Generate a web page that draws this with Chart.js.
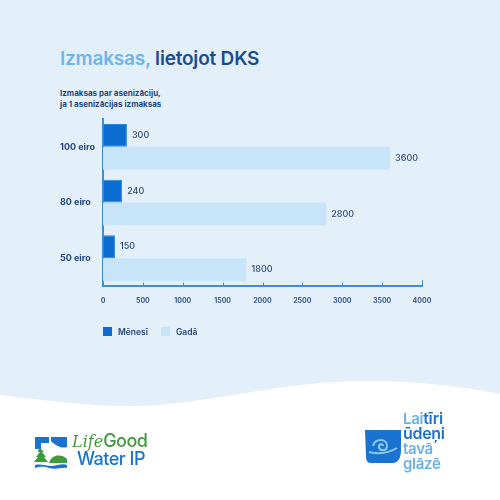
<!DOCTYPE html>
<html>
<head>
<meta charset="utf-8">
<script src="https://cdn.jsdelivr.net/npm/chart.js@4"></script>
<style>
  html, body { margin: 0; padding: 0; }
  body { width: 500px; height: 500px; position: relative; overflow: hidden; background: #fff; font-family: Inter, "Noto Sans", sans-serif; }
  #bg { position: absolute; left: 0; top: 0; }
  .title { position: absolute; left: 60px; top: 47px; font-size: 19px; font-weight: 600; color: #1d4b8f; letter-spacing: -0.2px; white-space: nowrap; }
  .title span { color: #6cb4ee; }
  .sub { position: absolute; left: 60px; top: 88px; font-size: 8px; font-weight: 700; line-height: 10.5px; color: #24477f; white-space: nowrap; }
  #wrap { position: absolute; left: 0; top: 0; width: 500px; height: 500px; }
  .legend { position: absolute; top: 327px; left: 103px; font-size: 8.5px; font-weight: 600; color: #24477f; white-space: nowrap; }
  .legend i { display: inline-block; width: 9px; height: 9px; vertical-align: -1px; margin-right: 6px; }
  .legend b { font-weight: 600; margin-right: 13px; }
  .logo1 { position: absolute; left: 72px; top: 432px; line-height: 17px; }
  .logo1 .life { font-family: "DejaVu Serif", serif; font-style: italic; color: #3f9a3a; font-size: 16px; }
  .logo1 .good { font-size: 18px; font-weight: 500; color: #3f9a3a; letter-spacing: -0.5px; }
  .logo1 .water { display: block; padding-left: 5px; font-size: 18px; font-weight: 500; color: #1a73d1; letter-spacing: -0.5px; }
  .logo2 { position: absolute; left: 403px; top: 411px; font-size: 15px; font-weight: 600; line-height: 15px; color: #6ab0e8; letter-spacing: -0.3px; }
  .logo2 .d { color: #1a73d1; font-size: 16px; }
</style>
</head>
<body>
<svg id="bg" width="500" height="500">
  <rect x="0" y="0" width="500" height="500" fill="#e4f0f9"/>
  <path d="M0 395 C 60 402, 110 410, 170 404 C 240 396, 290 382, 360 381 C 420 380, 470 388, 500 394 L 500 500 L 0 500 Z" fill="#ffffff"/>
  <!-- left logo icon -->
  <g transform="translate(35,437)">
    <path d="M0 0 H14 V6 H6 V12 H0 Z" fill="#1a73d1"/>
    <path d="M16 0 H32 V10 C26 12, 20 8, 16 4 Z" fill="#1a73d1"/>
    <path d="M4 12 L9 17 L7 17 L11 22 L9 22 L13 27 H-1 L3 22 L1 22 L5 17 L3 17 Z" fill="#3f9a3a" transform="translate(0,-2)"/>
    <path d="M14 26 C 16 18, 26 16, 32 22 V26 Z" fill="#3f9a3a"/>
    <path d="M0 28 C 8 26, 14 31, 22 28 C 26 27, 30 27, 32 28 V31 C 26 30, 22 33, 14 31 C 8 29, 4 30, 0 31 Z" fill="#1a73d1"/>
  </g>
  <!-- right logo cup -->
  <g transform="translate(365,430)">
    <path d="M0 0 H36 V20 C36 28, 33 33, 28 33 H6 C2 33, 1 30, 1 26 Z" fill="#1a73d1"/>
    <path d="M8 16 C 10 8, 22 8, 22 16 C 22 21, 15 22, 14 17 C 13 14, 18 13, 18 16" stroke="#8cc8f2" stroke-width="2" fill="none"/>
    <path d="M4 22 C 12 24, 22 24, 32 18" stroke="#8cc8f2" stroke-width="2" fill="none"/>
  </g>
</svg>
<div class="title"><span>Izmaksas,</span> lietojot DKS</div>
<div class="sub">Izmaksas par asenizāciju,<br>ja 1 asenizācijas izmaksas</div>
<div id="wrap"><canvas id="myChart" width="500" height="500"></canvas></div>
<div class="legend"><i style="background:#0a6dcf"></i><b>Mēnesī</b><i style="background:#c8e4f8"></i><b>Gadā</b></div>
<div class="logo1"><span class="life">Life</span><span class="good">Good</span><span class="water">Water IP</span></div>
<div class="logo2">Lai<span class="d">tīri</span><br><span class="d">ūdeņi</span><br>tavā<br>glāzē</div>
<script>
let categories = ['100 eiro', '80 eiro', '50 eiro']
let perMonth = [300, 240, 150]
let perYear = [3600, 2800, 1800]
let seriesNames = ['Mēnesī', 'Gadā']
let xTicks = [0, 500, 1000, 1500, 2000, 2500, 3000, 3500, 4000]

let axisBlue = '#3a8ee0'
let textBlue = '#24477f'

// value labels to the right of each bar
let valueLabels = {
    id: 'valueLabels',
    afterDatasetsDraw(chart) {
        let ctx = chart.ctx
        ctx.save()
        ctx.font = '500 9px Inter, sans-serif'
        ctx.fillStyle = '#2d4d80'
        ctx.textBaseline = 'middle'
        chart.data.datasets.forEach((ds, i) => {
            chart.getDatasetMeta(i).data.forEach((bar, j) => {
                ctx.fillText(ds.data[j], bar.x + 5, bar.y)
            })
        })
        ctx.restore()
    }
}

// small tick marks pointing up from the x axis
let innerTicks = {
    id: 'innerTicks',
    afterDraw(chart) {
        let ctx = chart.ctx
        let x = chart.scales.x
        let y0 = chart.chartArea.bottom
        ctx.save()
        ctx.strokeStyle = axisBlue
        ctx.lineWidth = 1
        xTicks.forEach((v, i) => {
            if (i === 0) return
            let px = Math.round(x.getPixelForValue(v)) + 0.5
            let len = i === xTicks.length - 1 ? 6 : 3.5
            ctx.beginPath()
            ctx.moveTo(px, y0)
            ctx.lineTo(px, y0 - len)
            ctx.stroke()
        })
        ctx.restore()
    }
}

let ctx = document.getElementById('myChart').getContext('2d')

let myChart = new Chart(ctx, {
    type: 'bar',
    data: {
        labels: categories,
        datasets: [{
            label: seriesNames[0],
            data: perMonth,
            backgroundColor: '#0a6dcf',
            borderColor: '#2b86dd',
            borderWidth: 1,
            borderSkipped: false
        }, {
            label: seriesNames[1],
            data: perYear,
            backgroundColor: '#c8e4f8'
        }]
    },
    options: {
        indexAxis: 'y',
        responsive: false,
        animation: false,
        categoryPercentage: 0.82,
        barPercentage: 1,
        layout: { padding: { left: 60, right: 78, top: 119, bottom: 184 } },
        plugins: {
            legend: { display: false },
            tooltip: { enabled: false }
        },
        scales: {
            x: {
                min: 0,
                max: 4000,
                afterBuildTicks(scale) {
                    scale.ticks = xTicks.map(v => ({ value: v }))
                },
                afterFit(scale) { scale.height = 30 },
                grid: { display: false, drawTicks: false },
                border: { display: true, color: axisBlue, width: 2 },
                ticks: {
                    padding: 11,
                    maxRotation: 0,
                    autoSkip: false,
                    color: '#3b5a8c',
                    font: { family: 'Inter, sans-serif', size: 7, weight: 'bold' },
                    callback: v => String(v)
                }
            },
            y: {
                afterFit(scale) { scale.width = 43 },
                grid: { display: false, drawTicks: false },
                border: { display: true, color: axisBlue, width: 2 },
                ticks: {
                    crossAlign: 'far',
                    color: textBlue,
                    font: { family: 'Inter, sans-serif', size: 9, weight: 'bold' }
                }
            }
        }
    },
    plugins: [valueLabels, innerTicks]
})
</script>
</body>
</html>
